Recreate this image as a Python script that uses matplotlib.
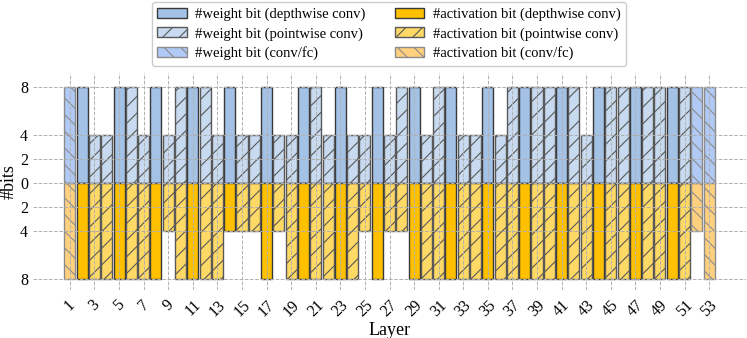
import matplotlib
matplotlib.use("Agg")
import matplotlib.pyplot as plt
from matplotlib.colors import to_rgba
import numpy as np

plt.rcParams['font.family'] = ['Liberation Serif', 'DejaVu Serif']
plt.rcParams['font.size'] = 10.5
plt.rcParams['hatch.linewidth'] = 0.8

# layer types: c = conv/fc, d = depthwise conv, p = pointwise conv
layer_type = ['c'] + ['d', 'p'] + ['p', 'd', 'p'] * 16 + ['c', 'c']
layers = np.arange(1, len(layer_type) + 1)

weight_bits = [8, 8, 4, 4, 8, 8, 4, 8, 4, 8,
               8, 8, 4, 8, 4, 4, 8, 4, 4, 8,
               8, 4, 8, 4, 4, 8, 4, 8, 8, 4,
               8, 8, 4, 4, 8, 4, 8, 8, 8, 8,
               8, 8, 4, 8, 8, 8, 8, 8, 8, 8,
               8, 8, 8]
act_bits = [8, 8, 8, 8, 8, 8, 8, 8, 4, 8,
            8, 8, 8, 4, 4, 4, 8, 4, 8, 8,
            8, 8, 8, 8, 4, 8, 4, 4, 8, 8,
            8, 8, 8, 8, 8, 8, 8, 8, 8, 8,
            8, 8, 8, 8, 8, 8, 8, 8, 8, 8,
            8, 4, 8]

types = ['d', 'p', 'c']
names = {'d': 'depthwise conv', 'p': 'pointwise conv', 'c': 'conv/fc'}
hatches = {'d': None, 'p': '//', 'c': '\\\\'}
alphas = {'d': 1.0, 'p': 0.6, 'c': 0.5}
edges = {'d': '0.22', 'p': '0.35', 'c': '0.55'}
w_col = {'d': '#a4c2e6', 'p': '#a4c2e6', 'c': 'cornflowerblue'}
a_col = {'d': '#ffc000', 'p': '#ffc000', 'c': 'orange'}

wb = np.array(weight_bits)
ab = np.array(act_bits)
lt = np.array(layer_type)

fig = plt.figure(figsize=(7.47, 3.38), dpi=100)
ax = fig.add_axes([33 / 747, 48 / 338, 713 / 747, 217 / 338])

handles = []
for t in types:
    m = lt == t
    h = ax.bar(layers[m], wb[m], width=0.9, color=to_rgba(w_col[t], alphas[t]),
               edgecolor=edges[t], linewidth=1.0, hatch=hatches[t],
               label='#weight bit (%s)' % names[t])
    handles.append(h)
for t in types:
    m = lt == t
    h = ax.bar(layers[m], -ab[m], width=0.9, color=to_rgba(a_col[t], alphas[t]),
               edgecolor=edges[t], linewidth=1.0, hatch=hatches[t],
               label='#activation bit (%s)' % names[t])
    handles.append(h)

ax.set_xlim(-2, 56)
ax.set_ylim(-8.9, 9.15)
ax.set_xticks(layers[::2])
ax.set_xticklabels([str(v) for v in layers[::2]], rotation=45)
yt = [-8, -4, -2, 0, 2, 4, 8]
ax.set_yticks(yt)
ax.set_yticklabels([str(abs(v)) for v in yt])
ax.tick_params(length=0, labelsize=11.5)
ax.tick_params(axis='x', pad=5)
for s in ax.spines.values():
    s.set_visible(False)
ax.set_axisbelow(False)
ax.grid(True, linestyle='--', color='#b0b0b0', linewidth=0.7)
ax.set_xlabel('Layer', fontsize=13, labelpad=2)
ax.set_ylabel('#bits', fontsize=13, labelpad=2)

fig.legend(handles=handles, ncol=2, loc='upper center',
           bbox_to_anchor=(389 / 747, 1 - 2 / 338), borderaxespad=0,
           fontsize=10.5, handletextpad=0.6, columnspacing=2.0,
           labelspacing=0.4, framealpha=1.0, edgecolor='#cccccc')

fig.savefig('out.png', dpi=100)
